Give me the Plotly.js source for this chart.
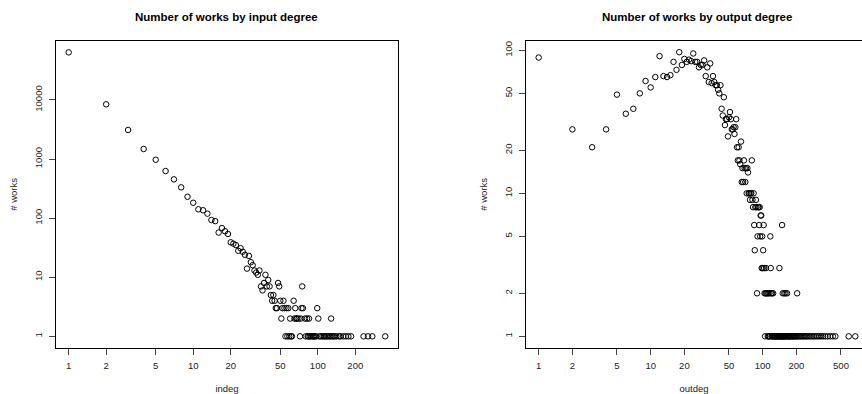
<!DOCTYPE html>
<html>
<head>
<meta charset="utf-8">
<script src="https://cdn.plot.ly/plotly-3.0.1.min.js"></script>
<style>
html,body{margin:0;padding:0;background:#fff;}
#chart{width:862px;height:394px;}
</style>
</head>
<body>
<div id="chart"></div>
<script>
// ---- Left panel: number of works by input degree ----
const indeg = [1,2,3,4,5,6,7,8,9,10,11,12,13,14,15,16,17,18,19,20,
  21,22,23,24,25,26,27,28,29,30,31,32,33,34,35,36,37,38,39,40,
  41,42,43,44,45,46,47,48,49,50,51,52,53,54,55,56,57,58,59,60,
  61,62,64,65,66,67,68,70,72,73,74,75,76,79,80,82,83,84,85,86,
  88,90,92,93,95,97,99,101,103,106,109,112,114,117,120,123,126,128,130,133,
  137,141,148,152,160,168,176,185,233,253,274,348];
const indegCount = [63800,8420,3100,1480,973,627,453,332,230,182,141,136,119,93,89,57,68,60,54,39,
  37,35,28,31,27,24,14,23,18,16,13,12,11,13,7,6,8,11,7,9,
  7,5,4,5,4,3,3,8,7,4,2,3,4,3,1,3,1,3,1,2,
  1,1,4,2,3,2,2,2,1,2,3,7,3,2,1,2,1,1,2,1,
  1,1,1,1,1,1,3,2,1,1,1,1,1,1,1,1,1,2,1,1,
  1,1,1,1,1,1,1,1,1,1,1,1];

// ---- Right panel: number of works by output degree ----
const outdeg = [1,2,3,4,5,6,7,8,9,10,11,12,13,14,15,16,17,18,19,20,
  21,22,23,24,25,26,27,28,29,30,31,32,33,34,35,36,37,38,39,40,
  41,42,43,44,45,46,47,48,49,50,51,52,53,54,55,56,57,58,59,60,
  61,62,63,64,65,66,67,68,69,70,71,72,73,74,75,76,77,78,79,80,
  81,82,83,84,85,86,87,88,89,90,91,92,93,94,95,96,97,98,99,100,
  101,102,103,104,106,107,108,110,112,115,117,118,119,121,124,141,149,151,156,160,165,203,
  105,111,113,114,116,120,122,123,126,127,128,130,132,134,135,137,139,140,142,143,
  145,147,148,150,152,153,155,157,158,161,163,167,169,171,173,175,178,181,184,187,
  190,193,197,201,205,210,215,220,226,232,238,245,252,260,268,277,286,296,307,319,
  332,346,362,380,400,423,446,586,671];
const outdegCount = [89,28,21,28,49,36,39,50,61,55,65,91,66,65,67,83,73,97,79,87,
  83,86,84,95,83,83,76,79,79,85,66,76,60,81,59,66,60,57,57,53,
  50,57,39,35,47,30,33,33,25,34,37,33,28,28,29,26,29,33,21,17,
  21,17,16,23,12,15,12,17,15,12,15,10,15,14,10,10,9,10,10,17,
  9,8,10,6,4,8,9,8,2,5,8,8,6,8,5,7,7,3,5,3,
  4,6,3,2,2,3,2,2,2,2,5,3,2,2,2,3,6,2,2,2,2,2,
  1,1,1,1,1,1,1,1,1,1,1,1,1,1,1,1,1,1,1,1,
  1,1,1,1,1,1,1,1,1,1,1,1,1,1,1,1,1,1,1,1,
  1,1,1,1,1,1,1,1,1,1,1,1,1,1,1,1,1,1,1,1,
  1,1,1,1,1,1,1,1,1];

const inTicks = [1,2,5,10,20,50,100,200];
const inTickText = ["1","2","5","10","20","50","100","200"];
const outTicks = [1,2,5,10,20,50,100,200,500];
const outTickText = ["1","2","5","10","20","50","100","200","500"];
const inYTicks = [1,10,100,1000,10000];
const inYTickText = ["1","10","100","1000","10000"];
const outYTicks = [1,2,5,10,20,50,100];
const outYTickText = ["1","2","5","10","20","50","100"];

const W = 862, H = 394;
const FONT = "Liberation Sans, Arial, Helvetica, sans-serif";
const marker = {symbol: "circle-open", size: 5.5, color: "#000", line: {width: 1, color: "#000"}};

const traces = [
  {x: indeg, y: indegCount, type: "scatter", mode: "markers", marker: marker, xaxis: "x", yaxis: "y", cliponaxis: true},
  {x: outdeg, y: outdegCount, type: "scatter", mode: "markers", marker: marker, xaxis: "x2", yaxis: "y2", cliponaxis: true}
];

const tickFont = {family: FONT, size: 9.5, color: "#222"};
const titleFont = {family: FONT, size: 9.5, color: "#222"};
const axisCommon = {
  type: "log", showgrid: false, zeroline: false, showline: true, linecolor: "#000", linewidth: 1,
  ticks: "outside", ticklen: 6, tickwidth: 1, tickcolor: "#444", tickfont: tickFont,
  tickmode: "array", fixedrange: true
};

const yTop = 1 - 41 / H, yBot = 1 - 347.7 / H;

const layout = {
  width: W, height: H,
  margin: {l: 0, r: 0, t: 0, b: 0},
  paper_bgcolor: "#fff", plot_bgcolor: "#fff",
  showlegend: false,
  font: {family: FONT, color: "#000"},
  xaxis: Object.assign({}, axisCommon, {
    domain: [56 / W, 398 / W], range: [-0.1017, 2.644], mirror: true,
    tickvals: inTicks, ticktext: inTickText, anchor: "y", ticklabelstandoff: 3,
    title: {text: "indeg", font: titleFont, standoff: 16}
  }),
  yaxis: Object.assign({}, axisCommon, {
    domain: [yBot, yTop], range: [-0.192, 4.997], mirror: true,
    tickvals: inYTicks, ticktext: inYTickText, tickangle: -90, anchor: "x", ticklabelstandoff: 3,
    title: {text: "# works", font: titleFont, standoff: 13}
  }),
  xaxis2: Object.assign({}, axisCommon, {
    domain: [526 / W, 1], range: [-0.113, 2.8866], mirror: true,
    tickvals: outTicks, ticktext: outTickText, anchor: "y2", ticklabelstandoff: 3,
    title: {text: "outdeg", font: titleFont, standoff: 16}
  }),
  yaxis2: Object.assign({}, axisCommon, {
    domain: [yBot, yTop], range: [-0.0794, 2.065], mirror: false,
    tickvals: outYTicks, ticktext: outYTickText, tickangle: -90, anchor: "x2", ticklabelstandoff: 3,
    title: {text: "# works", font: titleFont, standoff: 13}
  }),
  annotations: [
    {text: "<b>Number of works by input degree</b>", xref: "paper", yref: "paper",
     x: 227 / W, y: 1 - 17 / H, xanchor: "center", yanchor: "middle", showarrow: false,
     font: {family: FONT, size: 11.5, color: "#000"}},
    {text: "<b>Number of works by output degree</b>", xref: "paper", yref: "paper",
     x: 697 / W, y: 1 - 17 / H, xanchor: "center", yanchor: "middle", showarrow: false,
     font: {family: FONT, size: 11.5, color: "#000"}}
  ]
};

Plotly.newPlot("chart", traces, layout, {displayModeBar: false, staticPlot: true});
</script>
</body>
</html>
